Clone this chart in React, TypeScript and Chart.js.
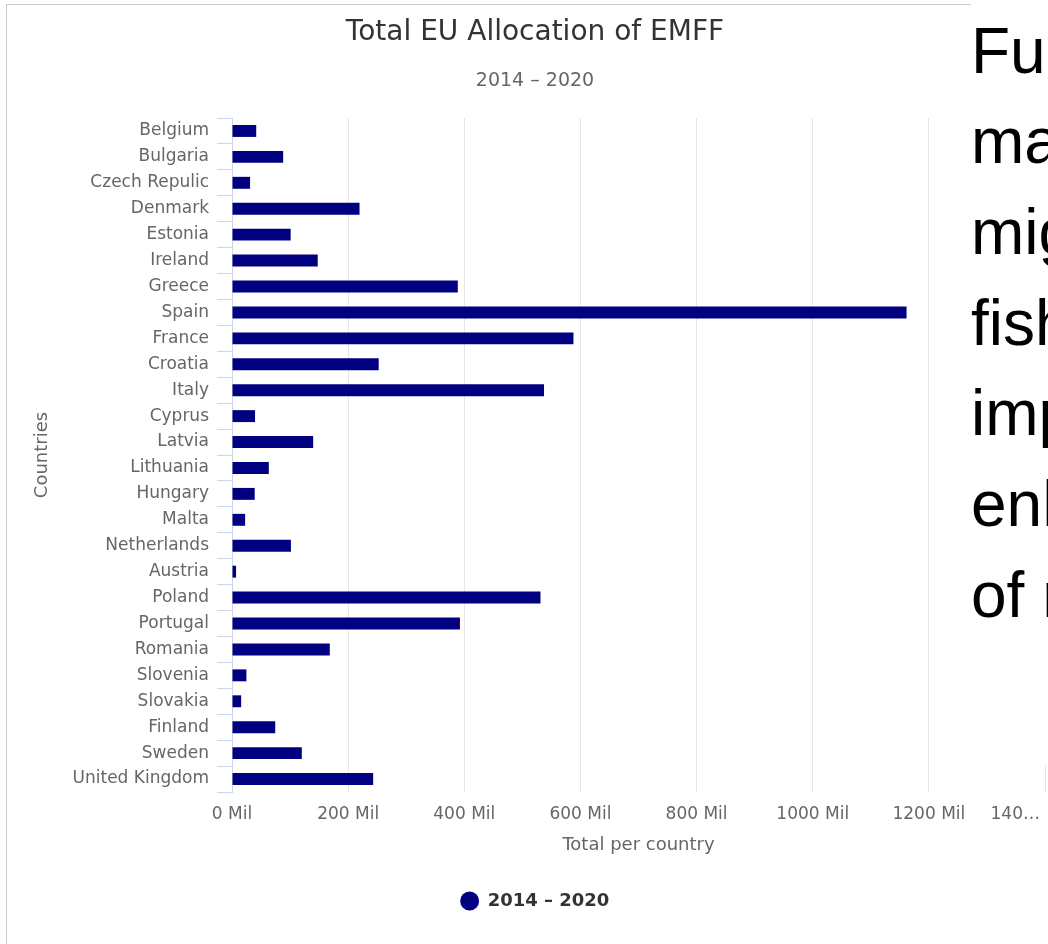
import { useEffect, useRef } from 'react';
import { Chart, registerables } from 'chart.js';

Chart.register(...registerables);

const chartTitle = 'Total EU Allocation of EMFF';
const chartSubtitle = '2014 – 2020';
const seriesLabel = '2014 – 2020';
const xAxisTitle = 'Total per country';
const yAxisTitle = 'Countries';

const countries = [
  'Belgium', 'Bulgaria', 'Czech Repulic', 'Denmark', 'Estonia', 'Ireland', 'Greece', 'Spain',
  'France', 'Croatia', 'Italy', 'Cyprus', 'Latvia', 'Lithuania', 'Hungary', 'Malta',
  'Netherlands', 'Austria', 'Poland', 'Portugal', 'Romania', 'Slovenia', 'Slovakia',
  'Finland', 'Sweden', 'United Kingdom',
];

// million EUR
const allocations = [
  41.7, 88.1, 31.1, 219.6, 101.0, 147.6, 388.8, 1161.6,
  588.0, 252.6, 537.3, 39.7, 139.8, 63.4, 39.1, 22.6,
  101.5, 7.0, 531.2, 392.5, 168.4, 24.8, 15.8,
  74.4, 120.2, 243.1,
];

const xTickValues = [0, 200, 400, 600, 800, 1000, 1200, 1400];
const xTickLabels = ['0 Mil', '200 Mil', '400 Mil', '600 Mil', '800 Mil', '1000 Mil', '1200 Mil', '140…'];

const sideTextLines = ['Fu', 'ma', 'mig', 'fish', 'imp', 'enh', 'of r'];

function App() {
  const canvasRef = useRef<HTMLCanvasElement | null>(null);

  useEffect(() => {
    if (!canvasRef.current) return;
    Chart.defaults.font.family = '"DejaVu Sans", sans-serif';
    const lastIdx = xTickValues.length - 1;
    const chart = new Chart(canvasRef.current, {
      type: 'bar',
      data: {
        labels: countries,
        datasets: [
          {
            label: seriesLabel,
            data: allocations,
            backgroundColor: '#000080',
            borderWidth: 0,
            barPercentage: 0.46,
            categoryPercentage: 1.0,
          },
        ],
      },
      options: {
        indexAxis: 'y',
        responsive: false,
        animation: false,
        layout: { padding: { left: 18, right: 18, top: 0, bottom: 24 } },
        scales: {
          x: {
            type: 'linear',
            min: xTickValues[0],
            max: xTickValues[lastIdx],
            afterBuildTicks: (scale: any) => {
              scale.ticks = xTickValues.map((v) => ({ value: v }));
            },
            afterFit: (scale: any) => {
              scale.paddingLeft = 0;
              scale.paddingRight = 0;
            },
            grid: {
              color: (ctx: any) => (ctx.tick && ctx.tick.value === 0 ? 'rgba(0,0,0,0)' : '#e6e6e6'),
              lineWidth: 1,
              drawTicks: false,
            },
            border: { display: false },
            ticks: {
              autoSkip: false,
              maxRotation: 0,
              color: '#666666',
              font: { size: 17 },
              padding: 12,
              callback: (_v: any, i: number) =>
                i === lastIdx ? xTickLabels[i] + '           ' : xTickLabels[i],
            },
            title: {
              display: true,
              text: xAxisTitle,
              color: '#666666',
              font: { size: 18 },
              padding: { top: -2, bottom: 26 },
            },
          },
          y: {
            type: 'category',
            afterFit: (scale: any) => {
              scale.width = 207;
            },
            grid: {
              drawOnChartArea: false,
              color: '#ccd6eb',
              tickLength: 15,
              offset: true,
            },
            border: { display: true, color: '#ccd6eb' },
            ticks: {
              autoSkip: false,
              color: '#666666',
              font: { size: 17 },
              padding: 8,
            },
            title: {
              display: true,
              text: yAxisTitle,
              color: '#666666',
              font: { size: 18 },
              padding: { top: 6.7, bottom: 0 },
            },
          },
        },
        plugins: {
          title: {
            display: true,
            text: chartTitle,
            color: '#333333',
            font: { size: 28, weight: 'normal' },
            padding: { top: 10.7, bottom: 20.3 },
          },
          subtitle: {
            display: true,
            text: chartSubtitle,
            color: '#666666',
            font: { size: 19 },
            padding: { top: 0, bottom: 25.6 },
          },
          legend: {
            position: 'bottom',
            labels: {
              usePointStyle: true,
              pointStyle: 'circle',
              boxWidth: 18,
              boxHeight: 13.4,
              color: '#333333',
              font: { size: 18, weight: 'bold' },
              padding: 10,
            },
          },
          tooltip: { enabled: false },
        },
      },
    });
    return () => chart.destroy();
  }, []);

  return (
    <div
      style={{
        position: 'absolute',
        left: 0,
        top: 0,
        width: 1048,
        height: 944,
        overflow: 'hidden',
        background: '#ffffff',
      }}
    >
      <div
        style={{
          position: 'absolute',
          left: 6,
          top: 4,
          width: 1100,
          height: 1000,
          border: '1px solid #cccccc',
          boxSizing: 'border-box',
        }}
      />
      <canvas
        ref={canvasRef}
        width={1056}
        height={939}
        style={{ position: 'absolute', left: 7, top: 5, display: 'block' }}
      />
      <div
        style={{
          position: 'absolute',
          left: 971,
          top: 0,
          width: 77,
          height: 766,
          background: '#ffffff',
          overflow: 'hidden',
        }}
      >
        <div
          style={{
            paddingTop: 5.5,
            fontFamily: '"Liberation Sans", Arial, sans-serif',
            fontSize: 64,
            lineHeight: '90.7px',
            color: '#000000',
            whiteSpace: 'nowrap',
          }}
        >
          {sideTextLines.map((t, i) => (
            <div key={i}>{t}</div>
          ))}
        </div>
      </div>
    </div>
  );
}

export default App;
